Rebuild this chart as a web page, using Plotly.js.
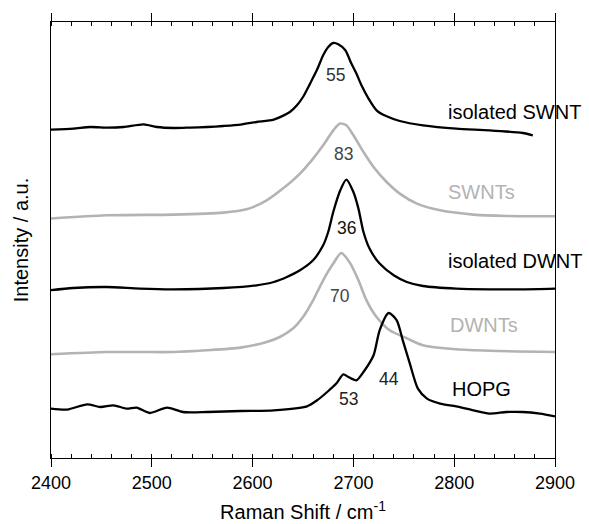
<!DOCTYPE html>
<html>
<head>
<meta charset="utf-8">
<script src="https://cdn.plot.ly/plotly-3.0.1.min.js"></script>
<style>html,body{margin:0;padding:0;background:#fff;}#chart{width:589px;height:524px;}</style>
</head>
<body>
<div id="chart"></div>
<script>
// ---- data (Raman shift in cm^-1, intensity in arbitrary units, stacked) ----
const isoSwntX = [2399,2422,2439,2456,2472,2492,2505,2522,2538,2555,2571,2588,2604,2621,2637,2644,2650,2657,2664,2670,2675,2680,2685,2692,2698,2703,2708,2715,2723,2733,2746,2769,2802,2835,2868,2878];
const isoSwntY = [328.4,329.4,331,330.4,331,333.7,331,330,330.4,331,332,333.4,336,338.4,346,352.7,361,374.4,388.4,402.7,411,415,413.7,407.7,394.4,384.4,372.7,359.4,347.7,341.7,337,332.7,329.4,327.7,325,322.7];

const swntsX = [2399,2455,2521,2571,2594,2614,2630,2647,2660,2670,2676,2682,2687,2693,2700,2710,2720,2733,2746,2763,2786,2819,2852,2900];
const swntsY = [239.4,242.7,243.4,245.4,248.7,257.7,269.4,284.4,299.4,312.7,321.7,330.2,334.4,332.7,322.7,306,291,276,264.4,254.4,247.7,243.4,242,241.7];

const isoDwntX = [2399,2422,2455,2488,2521,2571,2604,2621,2634,2647,2660,2670,2675,2680,2687,2693,2700,2705,2710,2716,2726,2740,2753,2769,2802,2835,2868,2900];
const isoDwntY = [167.7,170,171,169.4,168.7,170,172.7,176,181,187.7,197.7,212.7,226,246,267.7,278.4,266,249.4,226,209.4,194.4,182.7,176,172,169.4,168.7,168.7,169.4];

const dwntsX = [2399,2455,2488,2521,2554,2588,2614,2627,2640,2650,2660,2670,2680,2688,2697,2705,2713,2723,2736,2753,2769,2802,2835,2900];
const dwntsY = [103.7,106,106,106,107.7,110.4,116,121,129.4,141,157.7,177.7,194.4,205,194.4,177.7,157.7,141,127.7,119.7,112.7,108.7,107.2,106];

const hopgX = [2399,2416,2436,2449,2462,2475,2485,2498,2515,2531,2555,2588,2621,2654,2664,2674,2683,2690,2695,2703,2710,2720,2726,2735,2743,2749,2756,2764,2773,2786,2802,2819,2835,2852,2868,2885,2900];
const hopgY = [49.4,48.4,53.7,51,52.7,49.4,50.4,45,50.4,46,46,47,47.7,51.7,57.7,66,74.4,83.7,81,77.7,86,102.7,127.7,145,137.7,117.7,94.4,69.4,59.4,54.4,51.7,47.7,44.4,46,46,44.4,41.7];

const sampleNames = ["isolated SWNT","SWNTs","isolated DWNT","DWNTs","HOPG"];
const widthLabels = ["55","83","36","70","44","53"];

const xTickVals = [2400,2500,2600,2700,2800,2900];
const xTitle = "Raman Shift / cm<sup>-1</sup>";
const yTitle = "Intensity / a.u.";

// ---- styling ----
const BLACK = "#000000", GRAY = "#b3b3b3";
const FONT = "Liberation Sans, Arial, Helvetica, sans-serif";

function curve(x, y, color, w) {
  return {x: x, y: y, type: "scatter", mode: "lines",
          line: {color: color, width: w, shape: "spline", smoothing: 0.7},
          hoverinfo: "skip", showlegend: false};
}

const traces = [
  curve(swntsX, swntsY, GRAY, 2.6),
  curve(dwntsX, dwntsY, GRAY, 2.6),
  curve(isoSwntX, isoSwntY, BLACK, 2.3),
  curve(isoDwntX, isoDwntY, BLACK, 2.3),
  curve(hopgX, hopgY, BLACK, 2.3)
];

// annotation placement (label anchors)
const nameAt = [[2792,346,BLACK],[2792,266,GRAY],[2792,196.7,BLACK],[2794,132.7,GRAY],[2796,69.4,BLACK]];
const widthAt = [[2682.4,382.7,"#333"],[2690,304.4,"#444"],[2693.3,230,"#111"],[2686.7,161.7,"#444"],[2735.2,79.4,"#222"],[2694.9,59.4,"#222"]];

const annotations = [];
sampleNames.forEach((t,i)=>annotations.push({x:nameAt[i][0], y:nameAt[i][1], xref:"x", yref:"y", text:t, showarrow:false,
  xanchor:"left", yanchor:"middle", font:{family:FONT, size:20, color:nameAt[i][2]}}));
widthLabels.forEach((t,i)=>annotations.push({x:widthAt[i][0], y:widthAt[i][1], xref:"x", yref:"y", text:t, showarrow:false,
  xanchor:"center", yanchor:"middle", font:{family:FONT, size:17.5, color:widthAt[i][2]}}));

const layout = {
  width: 589, height: 524,
  margin: {l: 51, r: 34, t: 22, b: 66, pad: 0},
  paper_bgcolor: "#fff", plot_bgcolor: "#fff",
  font: {family: FONT, color: "#000"},
  showlegend: false,
  xaxis: {
    range: [2400, 2900], tickvals: xTickVals, ticktext: xTickVals.map(String),
    ticks: "outside", ticklen: 8, tickwidth: 1, tickcolor: "#000",
    minor: {dtick: 20, tick0: 2400, ticks: "inside", ticklen: 4, tickwidth: 1, tickcolor: "#000", showgrid: false},
    showline: true, linecolor: "#000", linewidth: 1, mirror: "ticks",
    showgrid: false, zeroline: false,
    tickfont: {family: FONT, size: 18, color: "#000"},
    title: {text: xTitle, font: {family: FONT, size: 20, color: "#000"}, standoff: 13}
  },
  xaxis2: {
    overlaying: "x", anchor: "y", side: "bottom",
    range: [2400, 2900], tickvals: xTickVals,
    ticks: "inside", ticklen: 8, tickwidth: 1, tickcolor: "#000",
    mirror: "ticks", showline: false, showticklabels: false,
    showgrid: false, zeroline: false
  },
  yaxis: {
    range: [0, 436], showline: true, linecolor: "#000", linewidth: 1, mirror: true,
    ticks: "", showticklabels: false, showgrid: false, zeroline: false,
    title: {text: yTitle, font: {family: FONT, size: 20, color: "#000"}, standoff: 16}
  },
  annotations: annotations
};

Plotly.newPlot("chart", traces, layout, {staticPlot: true, displayModeBar: false});
</script>
</body>
</html>
